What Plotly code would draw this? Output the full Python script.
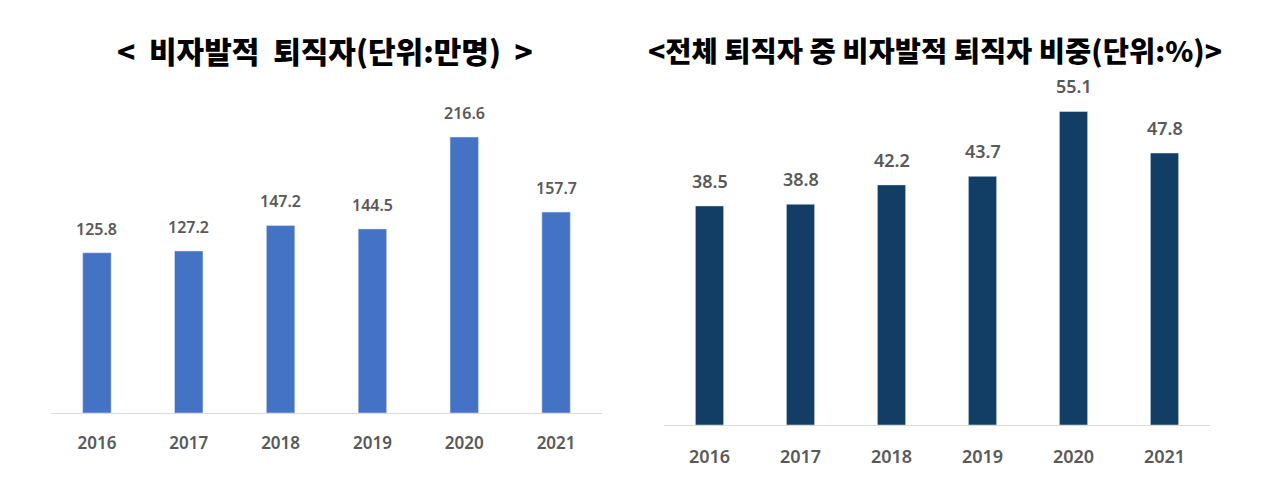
import plotly.graph_objects as go

years = ["2016", "2017", "2018", "2019", "2020", "2021"]
# 비자발적 퇴직자 (만명)
retirees = [125.8, 127.2, 147.2, 144.5, 216.6, 157.7]
# 전체 퇴직자 중 비자발적 퇴직자 비중 (%)
share = [38.5, 38.8, 42.2, 43.7, 55.1, 47.8]

left_title = "<  비자발적  퇴직자(단위:만명)  >"
right_title = "<전체 퇴직자 중 비자발적 퇴직자 비중(단위:%)>"

W, H = 1280, 479
OFF = 8  # page body margin
num_font = "Noto Sans"
kr_font = "Noto Sans CJK KR"
grey = "#595959"


def px(x):
    return (x - OFF) / W


def py(y):
    return 1 - (y - OFF) / H


fig = go.Figure()
fig.add_trace(go.Bar(x=years, y=retirees, width=0.31, marker_color="#4472C4",
                     xaxis="x", yaxis="y", showlegend=False))
fig.add_trace(go.Bar(x=years, y=share, width=0.31, marker_color="#123E66",
                     xaxis="x2", yaxis="y2", showlegend=False))

# value labels above bars (x is the category index)
annos = []
for i, v in enumerate(retirees):
    annos.append(dict(x=i, y=v, xref="x", yref="y", text=f"{v:.1f}", showarrow=False,
                      xanchor="center", yanchor="bottom", yshift=11,
                      font=dict(family=num_font, size=16, color=grey, weight=600)))
for i, v in enumerate(share):
    annos.append(dict(x=i, y=v, xref="x2", yref="y2", text=f"{v:.1f}", showarrow=False,
                      xanchor="center", yanchor="bottom", yshift=11,
                      font=dict(family=num_font, size=18, color=grey, weight=600)))

annos.append(dict(x=px(325), y=py(50), xref="paper", yref="paper", text=left_title,
                  showarrow=False, xanchor="center", yanchor="middle",
                  font=dict(family=kr_font, size=30, color="black", weight=900)))
annos.append(dict(x=px(935), y=py(50), xref="paper", yref="paper", text=right_title,
                  showarrow=False, xanchor="center", yanchor="middle",
                  font=dict(family=kr_font, size=28.5, color="black", weight=900)))

axis_common = dict(type="category", range=[-0.5, 5.5], showline=True, linecolor="#d9d9d9",
                   linewidth=1, showgrid=False, zeroline=False,
                   ticks="outside", tickcolor="rgba(0,0,0,0)")

fig.update_layout(
    width=W, height=H,
    margin=dict(l=0, r=0, t=0, b=0, autoexpand=False),
    paper_bgcolor="white", plot_bgcolor="white",
    xaxis=dict(domain=[px(51), px(602)], anchor="y", ticklen=15,
               tickfont=dict(family=num_font, size=17, color=grey, weight=600), **axis_common),
    yaxis=dict(domain=[py(413), py(100)], anchor="x", range=[0, 313 / 1.274], visible=False),
    xaxis2=dict(domain=[px(664), px(1210)], anchor="y2", ticklen=15,
                tickfont=dict(family=num_font, size=18, color=grey, weight=600), **axis_common),
    yaxis2=dict(domain=[py(425), py(80)], anchor="x2", range=[0, 345 / 5.69], visible=False),
    annotations=annos,
)

fig.write_html("out.html")
